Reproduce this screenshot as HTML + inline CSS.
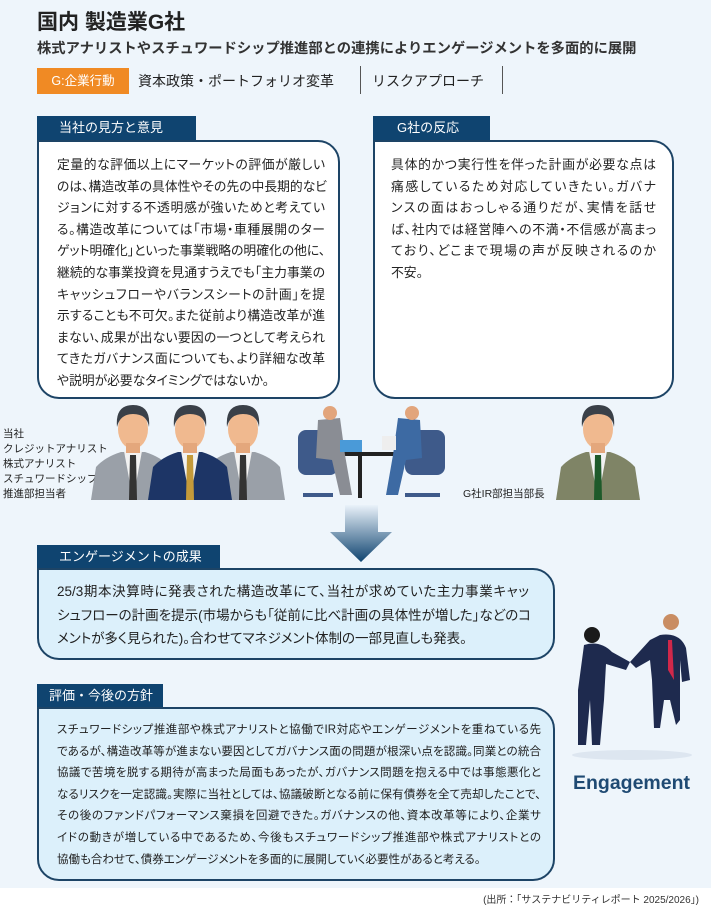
<!DOCTYPE html>
<html><head><meta charset="utf-8"><style>
*{margin:0;padding:0;box-sizing:border-box}
body{width:711px;height:910px;background:#fff;font-family:"Liberation Sans","Noto Sans CJK JP",sans-serif;color:#222;position:relative;overflow:hidden}
.bg{position:absolute;left:0;top:0;width:711px;height:888px;background:#eef5fb}
.a{position:absolute;white-space:nowrap}
.tab{position:absolute;background:#0f4470;color:#fff;font-size:13px;height:24px;line-height:24px;padding-left:22px}
.box{position:absolute;border:2px solid #1d4466;border-radius:0 22px 22px 22px;background:#fff}
.t div{white-space:nowrap;font-feature-settings:"palt";text-align:justify;text-align-last:justify}
.t div.e{text-align-last:left}
.lb{background:#dcf0fb}
</style></head><body>
<div class="bg"></div>
<div class="a" style="left:37px;top:6px;font-size:21px;font-weight:bold;color:#222">国内 製造業G社</div>
<div class="a" style="left:37px;top:37px;font-size:14.3px;font-weight:bold;color:#333">株式アナリストやスチュワードシップ推進部との連携によりエンゲージメントを多面的に展開</div>
<div class="a" style="left:37px;top:68px;width:92px;height:26px;background:#f08a24;color:#fff;font-size:12.5px;line-height:26px;text-align:center">G:企業行動</div>
<div class="a" style="left:138px;top:70px;font-size:14px;line-height:22px;color:#222">資本政策・ポートフォリオ変革</div>
<div class="a" style="left:360px;top:66px;width:1px;height:28px;background:#555"></div>
<div class="a" style="left:372px;top:70px;font-size:14px;line-height:22px;color:#222">リスクアプローチ</div>
<div class="a" style="left:502px;top:66px;width:1px;height:28px;background:#555"></div>

<div class="tab" style="left:37px;top:116px;width:159px">当社の見方と意見</div>
<div class="box" style="left:37px;top:140px;width:303px;height:259px"></div>
<div class="a t" style="left:57px;top:154px;width:268px;font-size:12.8px;line-height:21.6px">
<div>定量的な評価以上にマーケットの評価が厳しい</div>
<div>のは、構造改革の具体性やその先の中長期的なビ</div>
<div>ジョンに対する不透明感が強いためと考えてい</div>
<div>る。構造改革については「市場・車種展開のター</div>
<div>ゲット明確化」といった事業戦略の明確化の他に、</div>
<div>継続的な事業投資を見通すうえでも「主力事業の</div>
<div>キャッシュフローやバランスシートの計画」を提</div>
<div>示することも不可欠。また従前より構造改革が進</div>
<div>まない、成果が出ない要因の一つとして考えられ</div>
<div>てきたガバナンス面についても、より詳細な改革</div>
<div class="e">や説明が必要なタイミングではないか。</div>
</div>

<div class="tab" style="left:373px;top:116px;width:117px;padding-left:24px">G社の反応</div>
<div class="box" style="left:373px;top:140px;width:301px;height:259px"></div>
<div class="a t" style="left:391px;top:154px;width:265px;font-size:12.8px;line-height:21.6px">
<div>具体的かつ実行性を伴った計画が必要な点は</div>
<div>痛感しているため対応していきたい。ガバナ</div>
<div>ンスの面はおっしゃる通りだが、実情を話せ</div>
<div>ば、社内では経営陣への不満・不信感が高まっ</div>
<div>ており、どこまで現場の声が反映されるのか</div>
<div class="e">不安。</div>
</div>

<div class="a" style="left:3px;top:427px;font-size:10.5px;line-height:15px;color:#222">当社<br>クレジットアナリスト<br>株式アナリスト<br>スチュワードシップ<br>推進部担当者</div>
<div class="a" style="left:463px;top:486px;font-size:10.5px;color:#222">G社IR部担当部長</div>

<svg class="a" style="left:0;top:0" width="711" height="910">
<defs>
<linearGradient id="ar" x1="0" y1="0" x2="0" y2="1"><stop offset="0" stop-color="#eaf2fa"/><stop offset="1" stop-color="#0f4470"/></linearGradient>
<g id="p">
<path d="M-42 95 L-37 62 Q-28 52 -12 47 L12 47 Q28 52 37 62 L42 95Z"/>
<path d="M-9 46 L0 95 L9 46Z" fill="#f2f2f2"/>
<ellipse cx="0" cy="24" rx="15" ry="20" fill="#f0b98f"/>
<rect x="-7" y="38" width="14" height="10" fill="#e4a77c"/>
<path d="M-16 22 Q-18 0 0 0 Q18 0 16 22 Q14 9 0 9 Q-13 9 -16 22Z" fill="#3a4048"/>
</g>
</defs>
<g transform="translate(133,405)" fill="#9aa0a8"><use href="#p"/><path d="M-3 50 L3 50 L4 95 L-4 95Z" fill="#333"/></g>
<g transform="translate(243,405)" fill="#9aa0a8"><use href="#p"/><path d="M-3 50 L3 50 L4 95 L-4 95Z" fill="#333"/></g>
<g transform="translate(190,405)" fill="#1d3566"><use href="#p"/><path d="M-3 50 L3 50 L4 95 L-4 95Z" fill="#c49a3a"/></g>
<g transform="translate(598,405)" fill="#7f8466"><use href="#p"/><path d="M-3 50 L3 50 L4 95 L-4 95Z" fill="#1e5a2a"/></g>
<g>
<rect x="298" y="430" width="40" height="45" rx="8" fill="#3e5a8a"/>
<rect x="405" y="430" width="40" height="45" rx="8" fill="#3e5a8a"/>
<rect x="330" y="452" width="80" height="4" fill="#222"/>
<rect x="358" y="456" width="4" height="42" fill="#222"/>
<path d="M318 420 L340 418 L345 455 L352 495 L340 495 L332 460 L316 458Z" fill="#8a8d94"/>
<circle cx="330" cy="413" r="7" fill="#e2a57c"/>
<path d="M420 420 L398 418 L393 455 L386 495 L398 495 L406 460 L422 458Z" fill="#3d6aa3"/>
<circle cx="412" cy="413" r="7" fill="#e2a57c"/>
<rect x="340" y="440" width="22" height="12" fill="#4a9ad8"/>
<rect x="382" y="436" width="14" height="14" fill="#eee"/>
<path d="M303 495 L333 495 M405 495 L440 495" stroke="#3e5a8a" stroke-width="4"/>
</g>
<path d="M345 505 L378 505 L378 532 L392 532 L361 562 L330 532 L345 532Z" fill="url(#ar)"/>
<g fill="#1e2a4e">
<path d="M584 645 Q600 640 612 652 L630 662 L626 670 L606 664 L604 700 L600 745 L592 745 L590 700 L586 745 L578 745 L578 690 Z"/>
<circle cx="592" cy="635" r="8" fill="#1a1a1a"/>
<path d="M660 635 Q680 632 686 648 L690 680 L682 682 L680 660 L680 720 L676 725 L670 700 L664 700 L660 728 L654 728 L652 680 L650 660 L636 668 L630 662 L650 640Z"/>
<circle cx="671" cy="622" r="8" fill="#c98d63"/>
<path d="M668 640 L672 640 L674 680 L668 670Z" fill="#d0284a"/>
</g>
<ellipse cx="632" cy="755" rx="60" ry="5" fill="#dde6f0"/>
</svg>

<div class="tab" style="left:37px;top:545px;width:183px;height:23px;line-height:23px">エンゲージメントの成果</div>
<div class="box lb" style="left:37px;top:568px;width:518px;height:92px"></div>
<div class="a t" style="left:57px;top:580px;width:472px;font-size:13.5px;line-height:23.5px">
<div>25/3期本決算時に発表された構造改革にて、当社が求めていた主力事業キャッ</div>
<div>シュフローの計画を提示(市場からも「従前に比べ計画の具体性が増した」などのコ</div>
<div class="e">メントが多く見られた)。合わせてマネジメント体制の一部見直しも発表。</div>
</div>

<div class="tab" style="left:37px;top:684px;width:126px;height:23px;line-height:23px;padding-left:12px">評価・今後の方針</div>
<div class="box lb" style="left:37px;top:707px;width:518px;height:174px"></div>
<div class="a t" style="left:57px;top:720px;width:484px;font-size:11.5px;line-height:21.6px">
<div>スチュワードシップ推進部や株式アナリストと協働でIR対応やエンゲージメントを重ねている先</div>
<div>であるが、構造改革等が進まない要因としてガバナンス面の問題が根深い点を認識。同業との統合</div>
<div>協議で苦境を脱する期待が高まった局面もあったが、ガバナンス問題を抱える中では事態悪化と</div>
<div>なるリスクを一定認識。実際に当社としては、協議破断となる前に保有債券を全て売却したことで、</div>
<div>その後のファンドパフォーマンス棄損を回避できた。ガバナンスの他、資本改革等により、企業サ</div>
<div>イドの動きが増している中であるため、今後もスチュワードシップ推進部や株式アナリストとの</div>
<div class="e">協働も合わせて、債券エンゲージメントを多面的に展開していく必要性があると考える。</div>
</div>

<div class="a" style="left:573px;top:772px;font-size:19.5px;font-weight:bold;color:#1f4a73">Engagement</div>
<div class="a" style="right:12px;top:891px;font-size:10px;color:#333">(出所：「サステナビリティレポート 2025/2026」)</div>
</body></html>
